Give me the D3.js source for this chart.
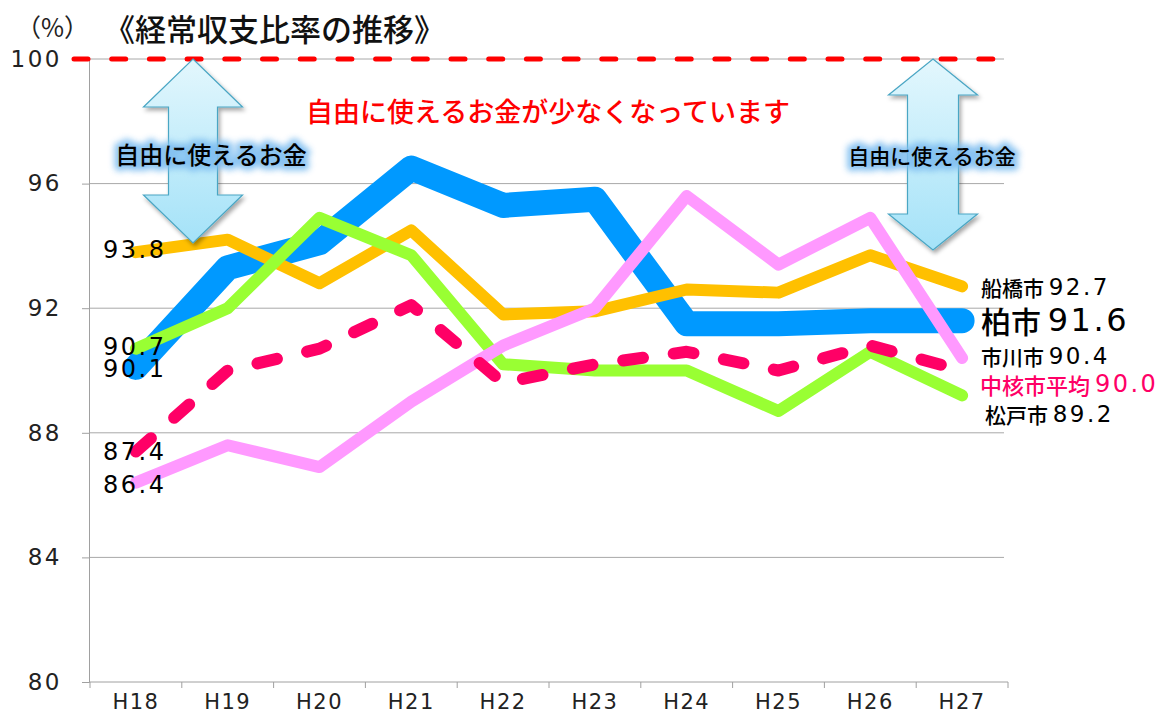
<!DOCTYPE html>
<html><head><meta charset="utf-8">
<script src="https://cdn.jsdelivr.net/npm/d3@7"></script>
<style>
html,body{margin:0;padding:0;background:#fff;}
svg{display:block;}
</style></head>
<body>
<svg id="chart" width="1169" height="715"></svg>
<script>
const years = ["H18","H19","H20","H21","H22","H23","H24","H25","H26","H27"];
const kashiwa   = [90.1, 93.3, 94.1, 96.5, 95.3, 95.5, 91.5, 91.5, 91.6, 91.6];
const funabashi = [93.8, 94.2, 92.8, 94.5, 91.8, 91.9, 92.6, 92.5, 93.7, 92.7];
const matsudo   = [90.7, 92.0, 94.9, 93.7, 90.2, 90.0, 90.0, 88.7, 90.6, 89.2];
const ichikawa  = [86.4, 87.6, 86.9, 89.0, 90.8, 92.0, 95.6, 93.4, 94.9, 90.4];
const average   = [87.4, 90.0, 90.7, 92.1, 89.6, 90.2, 90.6, 90.0, 90.8, 90.0];
const yTicks = [80, 84, 88, 92, 96, 100];
const limitValue = 100;
const title = "《経常収支比率の推移》";
const unitLabel = "（%）";
const message = "自由に使えるお金が少なくなっています";
const arrowLabel = "自由に使えるお金";
const endNames = ["船橋市", "柏市", "市川市", "中核市平均", "松戸市"];
const endValues = ["92.7", "91.6", "90.4", "90.0", "89.2"];
const startLabels = ["93.8", "90.7", "90.1", "87.4", "86.4"];

const NUM = "'DejaVu Sans', sans-serif";
const JP = "'Noto Sans CJK JP', sans-serif";

const svg = d3.select("#chart");
const defs = svg.append("defs");

const x = d3.scaleBand().domain(years).range([90, 1008]);
const xc = d => x(d) + x.bandwidth() / 2;
const y = d3.scaleLinear().domain([80, 100]).range([682, 59]);

// gradient & filters
const grad = defs.append("linearGradient").attr("id", "arrowGrad").attr("x1", 0).attr("y1", 0).attr("x2", 0).attr("y2", 1);
grad.append("stop").attr("offset", "0%").attr("stop-color", "#e3f7fd");
grad.append("stop").attr("offset", "100%").attr("stop-color", "#a4e2f8");
const sh = defs.append("filter").attr("id", "shadow").attr("x", "-30%").attr("y", "-30%").attr("width", "160%").attr("height", "160%");
sh.append("feDropShadow").attr("dx", 2).attr("dy", 3).attr("stdDeviation", 2).attr("flood-color", "#000").attr("flood-opacity", 0.35);
const glow = defs.append("filter").attr("id", "glow").attr("x", "-20%").attr("y", "-50%").attr("width", "140%").attr("height", "200%");
glow.append("feGaussianBlur").attr("stdDeviation", 3);

// gridlines
svg.append("g").selectAll("line").data(yTicks.filter(t => t > 80)).join("line")
  .attr("x1", 89).attr("x2", 1004).attr("y1", d => y(d)).attr("y2", d => y(d))
  .attr("stroke", "#a8a8a8").attr("stroke-width", 1);

// y axis
const yAxis = d3.axisLeft(y).tickValues(yTicks).tickSize(7).tickFormat(d3.format("d"));
const gy = svg.append("g").attr("transform", "translate(89,0)").call(yAxis);
gy.select(".domain").attr("stroke", "#a0a0a0");
gy.selectAll(".tick line").attr("stroke", "#a0a0a0");
gy.selectAll(".tick text").attr("x", -27).attr("font-family", NUM).attr("font-size", 23)
  .attr("letter-spacing", 2.5).attr("fill", "#222");

// x axis
const xAxis = d3.axisBottom(x).tickSize(0).tickPadding(12);
const gx = svg.append("g").attr("transform", "translate(0,682)").call(xAxis);
gx.select(".domain").attr("stroke", "#a0a0a0").attr("d", "M89,0H1008");
gx.selectAll(".tick text").attr("font-family", NUM).attr("font-size", 21).attr("letter-spacing", 1.5).attr("fill", "#222");
svg.append("g").selectAll("line").data(d3.range(years.length + 1)).join("line")
  .attr("x1", i => 90 + i * x.step()).attr("x2", i => 90 + i * x.step())
  .attr("y1", 682).attr("y2", 688).attr("stroke", "#a0a0a0");

// 100% red dashed line
svg.append("line").attr("x1", 74).attr("x2", 1014).attr("y1", y(limitValue)).attr("y2", y(limitValue))
  .attr("stroke", "#ff0000").attr("stroke-width", 5).attr("stroke-linecap", "round")
  .attr("stroke-dasharray", "14,23.7");

// lines
const line = d3.line().x((d, i) => xc(years[i])).y(d => y(d));
const series = [
  {v: kashiwa, c: "#0099ff", w: 25},
  {v: funabashi, c: "#ffc000", w: 12},
  {v: matsudo, c: "#99ff33", w: 12},
  {v: ichikawa, c: "#ff99ff", w: 12},
  {v: average, c: "#ff0066", w: 12, dash: "20,31"}
];
svg.append("g").selectAll("path").data(series).join("path")
  .attr("d", d => line(d.v)).attr("fill", "none")
  .attr("stroke", d => d.c).attr("stroke-width", d => d.w)
  .attr("stroke-linejoin", "round").attr("stroke-linecap", "round")
  .attr("stroke-dasharray", d => d.dash || null);

// arrows
function arrowPath(cx, top, bottom, hw, hh, sw) {
  return `M${cx},${top}L${cx + hw / 2},${top + hh}L${cx + sw / 2},${top + hh}L${cx + sw / 2},${bottom - hh}` +
    `L${cx + hw / 2},${bottom - hh}L${cx},${bottom}L${cx - hw / 2},${bottom - hh}L${cx - sw / 2},${bottom - hh}` +
    `L${cx - sw / 2},${top + hh}L${cx - hw / 2},${top + hh}Z`;
}
const arrows = [
  {cx: 193, top: y(limitValue), bottom: 243, hw: 99, hh: 48, sw: 49, tx: 211, ty: 153, fs: 24},
  {cx: 933, top: y(limitValue), bottom: 250, hw: 89, hh: 36, sw: 51, tx: 932, ty: 155, fs: 21}
];
svg.append("g").selectAll("path").data(arrows).join("path")
  .attr("d", d => arrowPath(d.cx, d.top, d.bottom, d.hw, d.hh, d.sw))
  .attr("fill", "url(#arrowGrad)").attr("stroke", "#4aa6c4").attr("stroke-width", 1.2)
  .attr("filter", "url(#shadow)");
const al = svg.append("g");
al.selectAll("text.g").data(arrows).join("text").attr("class", "g")
  .attr("x", d => d.tx).attr("y", d => d.ty).attr("text-anchor", "middle").attr("dominant-baseline", "central")
  .attr("font-family", JP).attr("font-size", d => d.fs).attr("font-weight", 500)
  .attr("fill", "#7fbef0").attr("stroke", "#7fbef0").attr("stroke-width", 9).attr("stroke-linejoin", "round")
  .attr("filter", "url(#glow)").attr("opacity", 0.9).text(arrowLabel);
al.selectAll("text.t").data(arrows).join("text").attr("class", "t")
  .attr("x", d => d.tx).attr("y", d => d.ty).attr("text-anchor", "middle").attr("dominant-baseline", "central")
  .attr("font-family", JP).attr("font-size", d => d.fs).attr("font-weight", 500)
  .attr("fill", "#000").text(arrowLabel);

// title & unit
svg.append("text").attr("x", 16).attr("y", 26).attr("dominant-baseline", "central")
  .attr("font-family", JP).attr("font-size", 25).attr("fill", "#222").text(unitLabel);
svg.append("text").attr("x", 104).attr("y", 27).attr("dominant-baseline", "central")
  .attr("font-family", JP).attr("font-size", 31).attr("font-weight", 500).attr("fill", "#111").text(title);

// message
svg.append("text").attr("x", 548).attr("y", 110).attr("text-anchor", "middle").attr("dominant-baseline", "central")
  .attr("font-family", JP).attr("font-size", 27).attr("font-weight", 500).attr("fill", "#ff0000").text(message);

// start labels
const startPos = [y(93.8) - 2, 347, 369, 452, 485];
svg.append("g").selectAll("text").data(startLabels).join("text")
  .attr("x", 103).attr("y", (d, i) => startPos[i]).attr("dominant-baseline", "central")
  .attr("font-family", NUM).attr("font-size", 24).attr("letter-spacing", 2.5).attr("fill", "#000").text(d => d);

// end labels
const endCfg = [
  {x: 981, y: 287, jp: 21, num: 23, c: "#000"},
  {x: 981, y: 320, jp: 30, num: 32, c: "#000"},
  {x: 981, y: 356, jp: 21, num: 23, c: "#000"},
  {x: 980, y: 384, jp: 22, num: 24, c: "#ff0066"},
  {x: 985, y: 414, jp: 21, num: 23, c: "#000"}
];
const eg = svg.append("g");
endNames.forEach((n, i) => {
  const c = endCfg[i];
  const t = eg.append("text").attr("x", c.x).attr("y", c.y).attr("dominant-baseline", "central").attr("fill", c.c);
  t.append("tspan").attr("font-family", JP).attr("font-size", c.jp).attr("font-weight", 500).text(n + " ");
  t.append("tspan").attr("font-family", NUM).attr("font-size", c.num).attr("letter-spacing", 2.5).text(endValues[i]);
});
</script>
</body></html>
